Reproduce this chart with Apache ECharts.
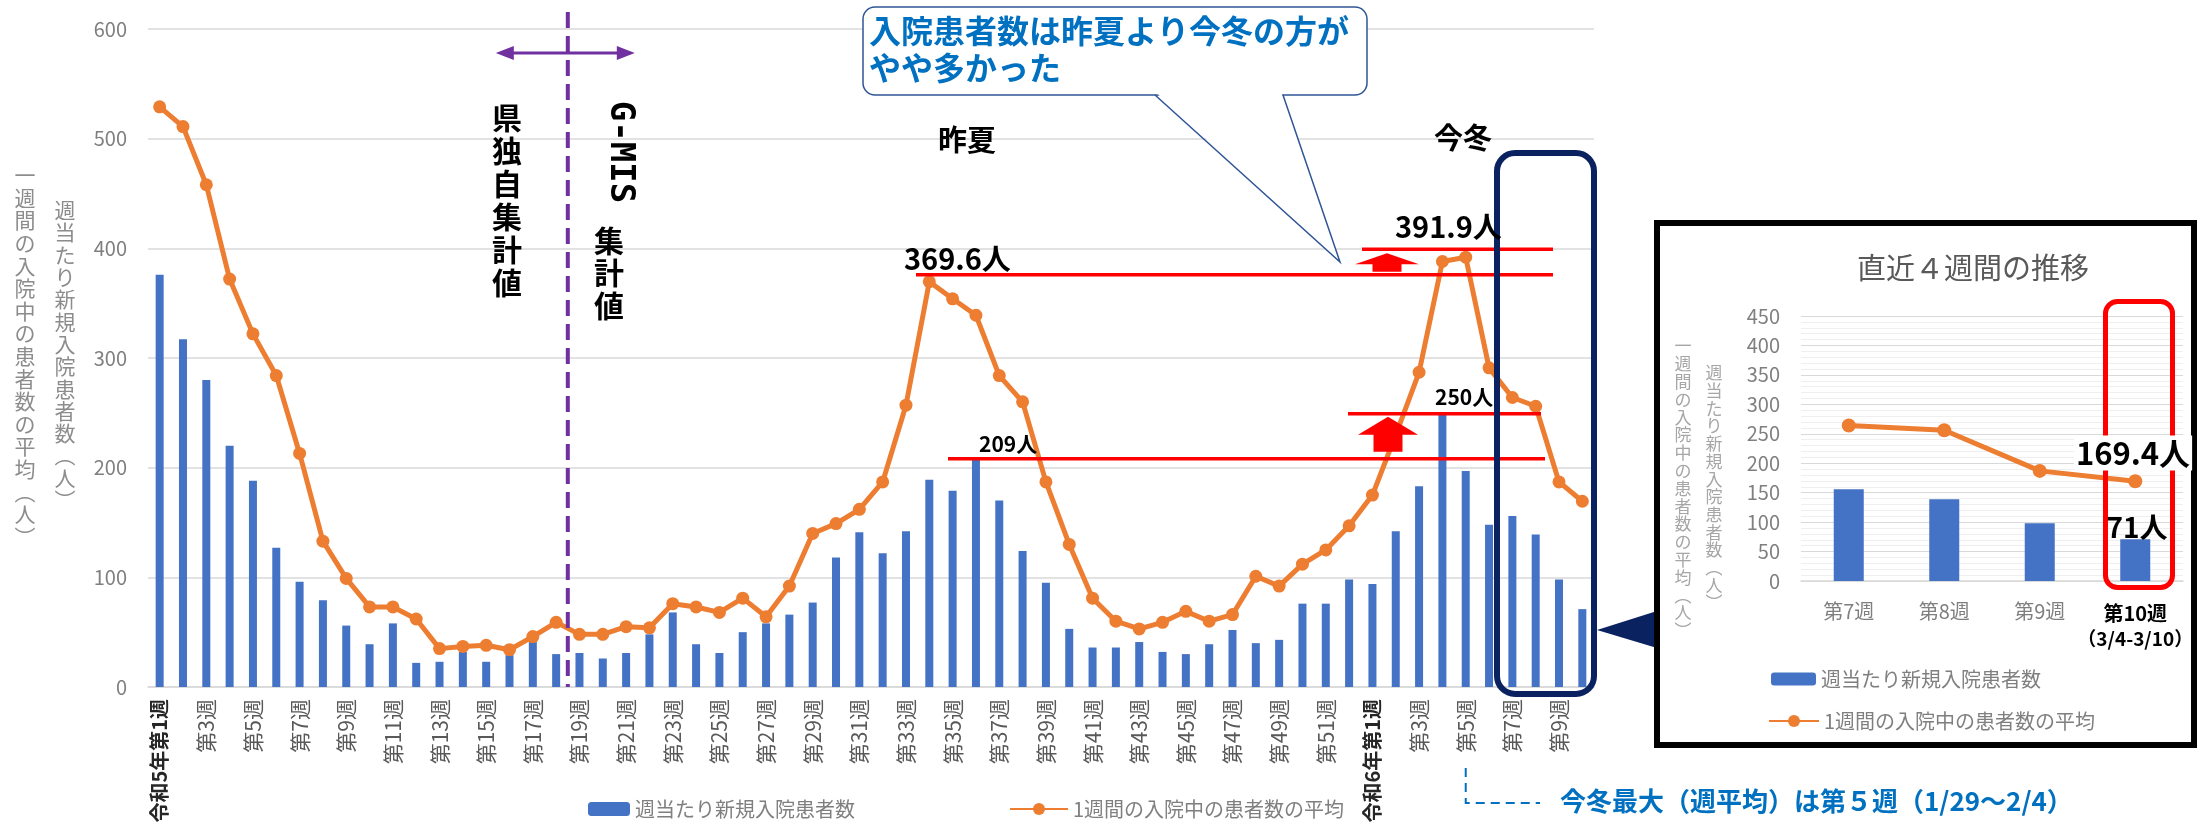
<!DOCTYPE html>
<html><head><meta charset="utf-8">
<script src="https://cdn.jsdelivr.net/npm/echarts@6/dist/echarts.min.js"></script>
<style>html,body{margin:0;padding:0;background:#fff}#c{width:2197px;height:829px}</style>
</head><body><div id="c"></div>
<script>
// ---------- data ----------
const weekLabels = [
  '令和5年第1週','第2週','第3週','第4週','第5週','第6週','第7週','第8週','第9週','第10週',
  '第11週','第12週','第13週','第14週','第15週','第16週','第17週','第18週','第19週','第20週',
  '第21週','第22週','第23週','第24週','第25週','第26週','第27週','第28週','第29週','第30週',
  '第31週','第32週','第33週','第34週','第35週','第36週','第37週','第38週','第39週','第40週',
  '第41週','第42週','第43週','第44週','第45週','第46週','第47週','第48週','第49週','第50週',
  '第51週','第52週',
  '令和6年第1週','第2週','第3週','第4週','第5週','第6週','第7週','第8週','第9週','第10週'
];
const newAdmissions = [
  376,317,280,220,188,127,96,79,56,39,
  58,22,23,32,23,29,41,30,31,26,
  31,48,68,39,31,50,58,66,77,118,
  141,122,142,189,179,209,170,124,95,53,
  36,36,41,32,30,39,52,40,43,76,
  76,98,
  94,142,183,250,197,148,156,139,98,71
];
const avgInpatients = [
  529,511,458,372,322,284,213,133,99,73,
  73,62,35,37,38,34,46,59,48,48,
  55,54,76,73,68,81,64,92,140,149,
  162,187,257,369.6,354,339,284,260,187,130,
  81,60,53,59,69,60,66,101,92,112,
  125,147,
  175,230,287,388,391.9,291,264,256,187,169.4
];
const mainYTicks = [0,100,200,300,400,500,600];
const insetYTicks = [0,50,100,150,200,250,300,350,400,450];
const insetLabels = weekLabels.slice(-4);
const insetBars = newAdmissions.slice(-4);
const insetLine = avgInpatients.slice(-4);
const insetNote = '（3/4-3/10）';
const summerIdx = 33, winterIdx = 56, summerNewIdx = 35, winterNewIdx = 55;

const BAR = '週当たり新規入院患者数';
const LINE = '1週間の入院中の患者数の平均';
const FONT = '"Noto Sans CJK JP","Noto Sans",sans-serif';

const chart = echarts.init(document.getElementById('c'), null, {renderer: 'canvas'});

const option = {
  animation: false,
  backgroundColor: '#ffffff',
  textStyle: {fontFamily: FONT},
  grid: [
    {left: 148, right: 603, top: 29, bottom: 142, outerBoundsMode: 'none', containLabel: false},
    {left: 1801, right: 14, top: 316, bottom: 248, outerBoundsMode: 'none', containLabel: false}
  ],
  xAxis: [
    {
      type: 'category', gridIndex: 0, data: weekLabels, boundaryGap: true,
      axisTick: {show: false},
      axisLine: {lineStyle: {color: '#d9d9d9', width: 1.5}},
      axisLabel: {
        rotate: 90, interval: 1, margin: 12, fontSize: 21, color: '#595959', fontFamily: FONT,
        formatter: v => v.indexOf('令和') === 0 ? '{b|' + v + '}' : v,
        rich: {b: {fontSize: 20, fontWeight: 'bold', color: '#262626', fontFamily: FONT}}
      }
    },
    {
      type: 'category', gridIndex: 1, data: insetLabels, boundaryGap: true,
      axisTick: {show: false},
      axisLine: {lineStyle: {color: '#d9d9d9', width: 1.5}},
      axisLabel: {
        interval: 0, margin: 20, fontSize: 20, color: '#7f7f7f', fontFamily: FONT,
        formatter: (v, i) => i === insetLabels.length - 1 ? '{b|' + v + '}\n{s|' + insetNote + '}' : v,
        rich: {
          b: {fontSize: 20, fontWeight: 'bold', color: '#000', fontFamily: FONT, lineHeight: 25},
          s: {fontSize: 19, fontWeight: 'bold', color: '#000', fontFamily: FONT, lineHeight: 25}
        }
      }
    }
  ],
  yAxis: [
    {
      type: 'value', gridIndex: 0, min: mainYTicks[0], max: mainYTicks[mainYTicks.length - 1], interval: 100,
      axisLine: {show: false}, axisTick: {show: false},
      axisLabel: {fontSize: 20, color: '#7f7f7f', margin: 21, fontFamily: FONT},
      splitLine: {lineStyle: {color: '#d9d9d9', width: 1.5}}
    },
    {
      type: 'value', gridIndex: 1, min: insetYTicks[0], max: insetYTicks[insetYTicks.length - 1], interval: 50,
      axisLine: {show: false}, axisTick: {show: false},
      axisLabel: {fontSize: 20, color: '#7f7f7f', margin: 21, fontFamily: FONT},
      splitLine: {lineStyle: {color: '#d9d9d9', width: 1.2}},
      minorTick: {show: false, splitNumber: 5},
      minorSplitLine: {show: true, lineStyle: {color: '#efefef', width: 1}}
    }
  ],
  legend: [
    {left: 583, top: 794, selectedMode: false, itemWidth: 42, itemHeight: 14, data: [BAR],
     textStyle: {fontSize: 20, color: '#7f7f7f', fontFamily: FONT}},
    {left: 1004, top: 794, selectedMode: false, itemWidth: 58, itemHeight: 15, data: [LINE],
     textStyle: {fontSize: 20, color: '#7f7f7f', fontFamily: FONT}},
    {left: 1766, top: 664, selectedMode: false, itemWidth: 45, itemHeight: 13, data: [BAR],
     textStyle: {fontSize: 20, color: '#7f7f7f', fontFamily: FONT}},
    {left: 1763, top: 706, selectedMode: false, itemWidth: 50, itemHeight: 15, data: [LINE],
     textStyle: {fontSize: 20, color: '#7f7f7f', fontFamily: FONT}}
  ],
  series: [
    {name: BAR, type: 'bar', xAxisIndex: 0, yAxisIndex: 0, data: newAdmissions, barWidth: 8,
     itemStyle: {color: '#4472C4'}, z: 2},
    {name: LINE, type: 'line', xAxisIndex: 0, yAxisIndex: 0, data: avgInpatients,
     symbol: 'circle', symbolSize: 13, itemStyle: {color: '#ED7D31'},
     lineStyle: {color: '#ED7D31', width: 5}, z: 3},
    {name: BAR, type: 'bar', xAxisIndex: 1, yAxisIndex: 1, data: insetBars, barWidth: 30,
     itemStyle: {color: '#4472C4'}, z: 2},
    {name: LINE, type: 'line', xAxisIndex: 1, yAxisIndex: 1, data: insetLine,
     symbol: 'circle', symbolSize: 14, itemStyle: {color: '#ED7D31'},
     lineStyle: {color: '#ED7D31', width: 5}, z: 3}
  ]
};
chart.setOption(option);

// ---------- annotations ----------
const P = (i, v) => chart.convertToPixel({gridIndex: 0}, [i, v]);
const xa = P(0, 0)[0], xb = P(1, 0)[0];
const catX = f => xa + f * (xb - xa);
const valY = v => P(0, v)[1];

function vtext(chars, x, top, fontSize, lh, color, weight) {
  return {type: 'text', x: x, y: top, z: 100,
    style: {text: Array.from(chars).join('\n'), fontSize: fontSize, fontWeight: weight || 'normal',
      fontFamily: FONT, fill: color, align: 'center', verticalAlign: 'top', lineHeight: lh}};
}
function txt(s, x, y, fontSize, color, weight, align, extra) {
  return {type: 'text', x: x, y: y, z: 100,
    style: Object.assign({text: s, fontSize: fontSize, fontWeight: weight || 'normal', fontFamily: FONT,
      fill: color, align: align || 'left', verticalAlign: 'middle'}, extra || {})};
}
function hline(x1, x2, y, color, w, z) {
  return {type: 'line', z: z || 90, shape: {x1: x1, y1: y, x2: x2, y2: y}, style: {stroke: color, lineWidth: w}};
}
function upArrow(cx, top, headBot, bot, headHalf, shaftHalf) {
  return {type: 'polygon', z: 95, shape: {points: [
    [cx, top], [cx + headHalf, headBot], [cx + shaftHalf, headBot], [cx + shaftHalf, bot],
    [cx - shaftHalf, bot], [cx - shaftHalf, headBot], [cx - headHalf, headBot]]},
    style: {fill: '#FF0000'}};
}

const ySummer = valY(avgInpatients[summerIdx]) - 7;
const yWinter = valY(avgInpatients[winterIdx]) - 8;
const yWinterNew = valY(newAdmissions[winterNewIdx]) + 1;
const ySummerNew = valY(newAdmissions[summerNewIdx]) + 1;
const divX = (catX(17) + catX(18)) / 2;

const graphics = [
  // y-axis names (vertical writing)
  vtext('一週間の入院中の患者数の平均︵人︶', 25, 164, 21, 22.6, '#8c8c8c'),
  vtext('週当たり新規入院患者数︵人︶', 65, 199, 21, 22.3, '#8c8c8c'),
  // purple divider
  {type: 'line', z: 80, shape: {x1: divX, y1: 12, x2: divX, y2: valY(0)},
   style: {stroke: '#7030A0', lineWidth: 4, lineDash: [16, 8]}},
  {type: 'line', z: 80, shape: {x1: divX - 60, y1: 53, x2: divX + 60, y2: 53}, style: {stroke: '#7030A0', lineWidth: 3}},
  {type: 'polygon', z: 80, shape: {points: [[divX - 72, 53], [divX - 54, 46], [divX - 54, 60]]}, style: {fill: '#7030A0'}},
  {type: 'polygon', z: 80, shape: {points: [[divX + 67, 53], [divX + 49, 46], [divX + 49, 60]]}, style: {fill: '#7030A0'}},
  vtext('県独自集計値', 507, 101.5, 30, 33, '#000', 'bold'),
  {type: 'text', x: 620, y: 152, rotation: -Math.PI / 2, z: 100,
   style: {text: 'G-MIS', fontSize: 34, fontWeight: 'bold', fontFamily: '"DejaVu Sans Mono",monospace',
     fill: '#000', align: 'center', verticalAlign: 'middle'}},
  vtext('集計値', 609, 224, 30, 32.5, '#000', 'bold'),
  // season labels
  txt('昨夏', 967, 140, 29, '#000', 'bold', 'center'),
  txt('今冬', 1463, 138, 29, '#000', 'bold', 'center'),
  // callout box + pointer
  {type: 'rect', z: 110, shape: {x: 863, y: 7, width: 504, height: 88, r: 12},
   style: {fill: '#ffffff', stroke: '#2F5597', lineWidth: 1.5}},
  {type: 'polygon', z: 111, shape: {points: [[1156.5, 93], [1281.5, 93], [1340, 262]]},
   style: {fill: '#ffffff'}},
  {type: 'polyline', z: 112, shape: {points: [[1155, 95], [1340, 262], [1283, 95]]},
   style: {stroke: '#2F5597', lineWidth: 1.5, fill: null}},
  Object.assign(txt('入院患者数は昨夏より今冬の方が', 869, 31, 32, '#0070C0', 'bold', 'left'), {z: 120}),
  Object.assign(txt('やや多かった', 869, 68, 32, '#0070C0', 'bold', 'left'), {z: 120}),
  // red reference lines
  hline(916, 1553, ySummer, '#FF0000', 3.5),
  hline(1362, 1553, yWinter, '#FF0000', 3.5),
  hline(948, 1545, ySummerNew, '#FF0000', 3.5),
  hline(1348, 1541, yWinterNew, '#FF0000', 3.5),
  upArrow(1387, yWinter + 4, yWinter + 15, ySummer - 3, 32, 14.5),
  upArrow(1388, yWinterNew + 3, yWinterNew + 21, ySummerNew - 7, 30, 14.5),
  txt(avgInpatients[summerIdx] + '人', 904, ySummer - 16, 29, '#000', 'bold', 'left'),
  txt(avgInpatients[winterIdx] + '人', 1395, yWinter - 22, 29, '#000', 'bold', 'left'),
  txt(newAdmissions[winterNewIdx] + '人', 1435, yWinterNew - 17, 21, '#000', 'bold', 'left'),
  txt(newAdmissions[summerNewIdx] + '人', 979, ySummerNew - 15, 21, '#000', 'bold', 'left'),
  // navy box around latest 4 weeks
  {type: 'rect', z: 96, shape: {x: 1497, y: 153, width: 97, height: 541, r: 18},
   style: {fill: 'none', stroke: '#0B2260', lineWidth: 6}},
  {type: 'polygon', z: 96, shape: {points: [[1597, 630], [1657, 611], [1657, 648]]}, style: {fill: '#0B2260'}},
  // inset frame
  {type: 'rect', z: 96, shape: {x: 1657, y: 223, width: 537, height: 522},
   style: {fill: 'none', stroke: '#000', lineWidth: 6}},
  txt('直近４週間の推移', 1973, 268, 29, '#595959', 'normal', 'center'),
  vtext('一週間の入院中の患者数の平均︵人︶', 1683, 337, 17, 17.8, '#a6a6a6'),
  vtext('週当たり新規入院患者数︵人︶', 1714, 364, 17, 17.7, '#a6a6a6'),
  {type: 'rect', z: 97, shape: {x: 2105.5, y: 301.5, width: 67, height: 286, r: 12},
   style: {fill: 'none', stroke: '#FF0000', lineWidth: 5}},
  Object.assign(txt(insetLine[3] + '人', 2133, 453, 31, '#000', 'bold', 'center',
    {backgroundColor: '#ffffff', padding: [2, 2]}), {z: 120}),
  Object.assign(txt(insetBars[3] + '人', 2137, 527, 28, '#000', 'bold', 'center'), {z: 120}),
  // bottom note
  {type: 'polyline', z: 90, shape: {points: [[catX(winterIdx), 768], [catX(winterIdx), 803], [1540, 803]]},
   style: {stroke: '#0070C0', lineWidth: 2, lineDash: [9, 6], fill: null}},
  txt('今冬最大（週平均）は第５週（1/29～2/4）', 1560, 801, 26, '#0070C0', 'bold', 'left')
];
chart.setOption({graphic: graphics});
</script>
</body></html>
